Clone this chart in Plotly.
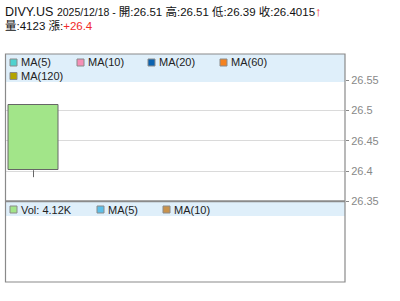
import plotly.graph_objects as go

# ---------------- data ----------------
symbol = "DIVY.US"
dates = ["2025/12/18"]
opens = [26.51]
highs = [26.51]
lows = [26.39]
closes = [26.4015]
volumes = [4123]
changes = [26.4]

price_ticks = [26.35, 26.4, 26.45, 26.5, 26.55]
price_tick_labels = ["26.35", "26.4", "26.45", "26.5", "26.55"]

ma_labels = ["MA(5)", "MA(10)", "MA(20)", "MA(60)", "MA(120)"]
ma_colors = ["#4fd2cf", "#f58fb6", "#0b63b0", "#f5821f", "#b3a400"]
vol_ma_labels = ["MA(5)", "MA(10)"]
vol_ma_colors = ["#5bbfe9", "#c8924c"]

# ---------------- layout helpers (pixel -> paper) ----------------
W, H = 400, 301
def px(x):
    return x / W
def py(y):
    return (H - y) / H

FONT = "Liberation Sans, Arial, Noto Sans CJK TC, sans-serif"

PLOT_L, PLOT_R = 5.5, 345
MAIN_T, MAIN_B = 54, 201.5
VOL_B = 282

fig = go.Figure()

# candle body
body_base = [min(o, c) for o, c in zip(opens, closes)]
body_len = [abs(o - c) for o, c in zip(opens, closes)]
xs = list(range(len(dates)))
fig.add_trace(go.Bar(
    x=xs, base=body_base, y=body_len, width=0.893,
    marker=dict(color="#a2e589", line=dict(color="#666666", width=1)),
    hoverinfo="skip", showlegend=False,
))
# wicks
wx, wy = [], []
for i, (o, h, l, c) in enumerate(zip(opens, highs, lows, closes)):
    wx += [i, i, None, i, i, None]
    wy += [h, max(o, c), None, min(o, c), l, None]
fig.add_trace(go.Scatter(
    x=wx, y=wy, mode="lines", line=dict(color="#666666", width=1),
    hoverinfo="skip", showlegend=False,
))

# y range based on pixel mapping
ppu = 605.0  # pixels per price unit
y_bottom = 26.3498
y_top = y_bottom + (MAIN_B - MAIN_T) / ppu

fig.update_layout(
    width=W, height=H,
    margin=dict(l=0, r=0, t=0, b=0, autoexpand=False),
    paper_bgcolor="white", plot_bgcolor="white",
    font=dict(family=FONT, size=11, color="#222222"),
    bargap=0,
    xaxis=dict(domain=[px(PLOT_L), px(PLOT_R)], range=[-0.5, 5.5625],
               visible=False, fixedrange=True, automargin=False),
    yaxis=dict(domain=[py(MAIN_B), py(MAIN_T)], range=[y_bottom, y_top],
               side="right", tickvals=price_ticks, ticktext=price_tick_labels,
               ticks="outside", ticklen=3, tickcolor="#888888",
               tickfont=dict(size=11, color="#888888", family=FONT),
               showgrid=True, gridcolor="#dadada", gridwidth=1, automargin=False,
               zeroline=False, showline=False, fixedrange=True),
)

shapes = []
# legend bands
shapes.append(dict(type="rect", xref="paper", yref="paper",
                   x0=px(PLOT_L), x1=px(PLOT_R), y0=py(82), y1=py(MAIN_T),
                   fillcolor="#dfeffa", line=dict(width=0), layer="above"))
shapes.append(dict(type="rect", xref="paper", yref="paper",
                   x0=px(PLOT_L), x1=px(PLOT_R), y0=py(216), y1=py(202),
                   fillcolor="#dfeffa", line=dict(width=0), layer="above"))
# frame
shapes.append(dict(type="rect", xref="paper", yref="paper",
                   x0=px(PLOT_L), x1=px(PLOT_R), y0=py(VOL_B), y1=py(MAIN_T),
                   line=dict(color="#8a8a8a", width=1.2), layer="above"))
shapes.append(dict(type="line", xref="paper", yref="paper",
                   x0=px(PLOT_L), x1=px(PLOT_R), y0=py(201.3), y1=py(201.3),
                   line=dict(color="#8a8a8a", width=2), layer="above"))

annotations = []

def legend_item(x, yc, color, label):
    shapes.append(dict(type="rect", xref="paper", yref="paper",
                       x0=px(x), x1=px(x + 7), y0=py(yc + 3.5), y1=py(yc - 3.5),
                       fillcolor=color, line=dict(color="#8a8a8a", width=1),
                       layer="above"))
    annotations.append(dict(xref="paper", yref="paper", x=px(x + 9), y=py(yc),
                            xanchor="left", yanchor="middle", showarrow=False,
                            text=label, font=dict(size=11, color="#222222", family=FONT)))

main_pos = [(10, 62.5), (77, 62.5), (148, 62.5), (220, 62.5), (10, 76)]
for (x, y), col, lab in zip(main_pos, ma_colors, ma_labels):
    legend_item(x, y, col, lab)

vol_text = "Vol: %.2fK" % (volumes[-1] / 1000.0)
legend_item(10, 209.5, "#a2e589", vol_text)
for (x, y), col, lab in zip([(97, 209.5), (163, 209.5)], vol_ma_colors, vol_ma_labels):
    legend_item(x, y, col, lab)

# header
arrow = "↑" if changes[-1] >= 0 else "↓"
head1 = (f"{symbol} <span style=\"font-size:10.5px\">{dates[-1]} - </span>"
         f"<span style=\"font-size:11.5px\">開:{opens[-1]} 高:{highs[-1]} 低:{lows[-1]} 收:{closes[-1]}</span>"
         f"<span style=\"color:#f02a2a;font-size:13px\"><b>{arrow}</b></span>")
annotations.append(dict(xref="paper", yref="paper", x=px(3), y=py(11.5),
                        xanchor="left", yanchor="middle", showarrow=False,
                        text=head1, font=dict(size=12.5, color="#111111", family=FONT)))
sign = "+" if changes[-1] >= 0 else ""
head2 = (f"量:{volumes[-1]} 漲:<span style=\"color:#f02a2a\">{sign}{changes[-1]}</span>")
annotations.append(dict(xref="paper", yref="paper", x=px(3), y=py(25.5),
                        xanchor="left", yanchor="middle", showarrow=False,
                        text=head2, font=dict(size=11.5, color="#111111", family=FONT)))

fig.update_layout(shapes=shapes, annotations=annotations)
fig.write_html("out.html")
